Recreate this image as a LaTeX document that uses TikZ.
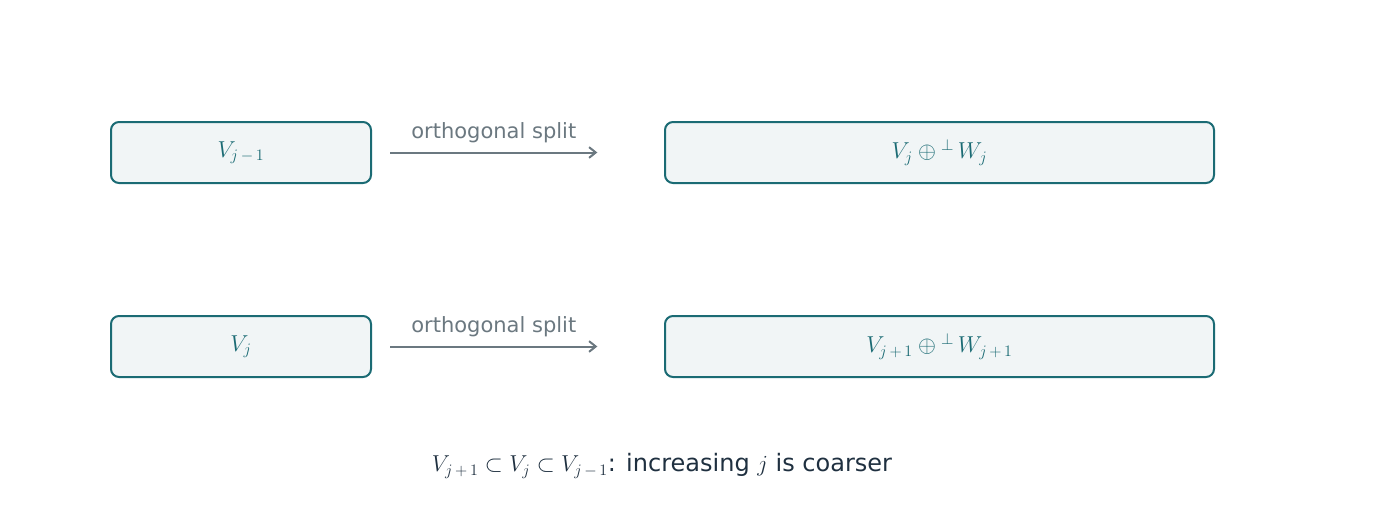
\documentclass[tikz,border=0pt]{standalone}
\usepackage{fontspec}
\setmainfont{DejaVu Sans}
\usetikzlibrary{arrows.meta}

\definecolor{boxedge}{HTML}{1B6B74}
\definecolor{boxfill}{HTML}{F1F5F6}
\definecolor{splitgray}{HTML}{6B7880}
\definecolor{captext}{HTML}{1F3040}

\begin{document}
\begin{tikzpicture}[
            x = 0.75pt, y = -0.75pt, % pixel grid, y downwards
            > = {Straight Barb[length=5pt, width=8pt]}, % arrow head style
            space/.style = {
                draw = boxedge,
                line width = 1.5pt,
                fill = boxfill,
                rounded corners = 6pt,
                minimum height = 45.75pt,
                text = boxedge,
                font = \fontsize{18}{20}\selectfont
            },
            split/.style = {
                ->,
                draw = splitgray,
                line width = 1.5pt,
                shorten < = 13.5pt, % gap after the left box
                shorten > = 50pt % gap before the right box
            },
            splitlabel/.style = {
                text = splitgray,
                font = \fontsize{15.75}{18}\selectfont
            }
        ]

        \useasboundingbox (0,0) rectangle (1373,518);

        % top row
        \node[space, minimum width = 195pt] (fine) at (241,152.5) {$V_{j\,-\,1}$};
        \node[space, minimum width = 411.75pt] (finesplit) at (939.5,152.5) {$V_j \oplus{}^{\perp}\, W_j$};

        % bottom row
        \node[space, minimum width = 195pt] (coarse) at (241,346.5) {$V_j$};
        \node[space, minimum width = 411.75pt] (coarsesplit) at (939.5,346.5) {$V_{j\,+\,1} \oplus{}^{\perp}\, W_{j\,+\,1}$};

        \draw[split] (fine) -- node[splitlabel, pos = 0.417, above = 3pt] {orthogonal split} (finesplit);
        \draw[split] (coarse) -- node[splitlabel, pos = 0.417, above = 3pt] {orthogonal split} (coarsesplit);

        \node[text = captext, font = \fontsize{18}{20}\selectfont] (nesting) at (662,466)
            {$V_{j\,+\,1} \subset V_j \subset V_{j\,-\,1}$: increasing $j$ is coarser};

  \end{tikzpicture}
\end{document}
